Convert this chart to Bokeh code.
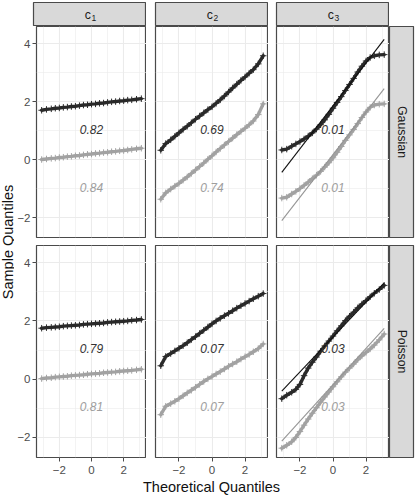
import math

from bokeh.core.properties import value
from bokeh.embed import file_html
from bokeh.layouts import column, row
from bokeh.models import FixedTicker, Grid, LinearAxis, Range1d, Spacer
from bokeh.plotting import figure
from bokeh.resources import INLINE

FONT = "Liberation Sans"

# Theoretical (normal) quantiles shared by every series
THEO = [-3.1, -2.8, -2.5, -2.25, -2.0, -1.75, -1.5, -1.25, -1.0, -0.75, -0.5, -0.25, 0.0,
        0.25, 0.5, 0.75, 1.0, 1.25, 1.5, 1.75, 2.0, 2.25, 2.5, 2.8, 3.1]

# Sample quantiles, Gaussian row
GAUSS_C1_DARK = [1.70, 1.73, 1.75, 1.77, 1.78, 1.80, 1.81, 1.83, 1.84, 1.86, 1.88, 1.89, 1.91,
                 1.92, 1.94, 1.95, 1.97, 1.99, 2.00, 2.02, 2.03, 2.05, 2.06, 2.08, 2.10]
GAUSS_C1_LIGHT = [0.00, 0.02, 0.04, 0.05, 0.07, 0.08, 0.10, 0.11, 0.13, 0.14, 0.16, 0.18, 0.19,
                  0.21, 0.22, 0.24, 0.25, 0.27, 0.28, 0.30, 0.31, 0.33, 0.35, 0.37, 0.39]
GAUSS_C2_DARK = [0.32, 0.55, 0.68, 0.80, 0.92, 1.04, 1.15, 1.27, 1.39, 1.50, 1.61, 1.72, 1.82,
                 1.94, 2.06, 2.19, 2.33, 2.47, 2.60, 2.73, 2.85, 2.98, 3.10, 3.30, 3.58]
GAUSS_C2_LIGHT = [-1.37, -1.15, -1.02, -0.92, -0.82, -0.71, -0.60, -0.48, -0.36, -0.24, -0.12, 0.01, 0.13,
                  0.26, 0.38, 0.50, 0.62, 0.74, 0.86, 0.97, 1.08, 1.20, 1.33, 1.55, 1.92]
GAUSS_C3_DARK = [0.33, 0.36, 0.46, 0.54, 0.62, 0.71, 0.81, 0.92, 1.05, 1.20, 1.37, 1.56, 1.77,
                 1.97, 2.17, 2.38, 2.59, 2.80, 3.02, 3.22, 3.40, 3.52, 3.58, 3.61, 3.62]
GAUSS_C3_LIGHT = [-1.33, -1.30, -1.19, -1.10, -1.00, -0.89, -0.78, -0.66, -0.54, -0.41, -0.26, -0.11, 0.06,
                  0.25, 0.45, 0.66, 0.85, 1.04, 1.24, 1.45, 1.64, 1.80, 1.88, 1.91, 1.92]

# Sample quantiles, Poisson row
POIS_C1_DARK = [1.75, 1.77, 1.78, 1.79, 1.80, 1.82, 1.83, 1.84, 1.85, 1.86, 1.88, 1.89, 1.90,
                1.91, 1.92, 1.93, 1.95, 1.96, 1.97, 1.98, 1.99, 2.00, 2.02, 2.03, 2.05]
POIS_C1_LIGHT = [0.02, 0.04, 0.05, 0.07, 0.08, 0.09, 0.10, 0.12, 0.13, 0.14, 0.15, 0.17, 0.18,
                 0.19, 0.20, 0.22, 0.23, 0.24, 0.25, 0.27, 0.28, 0.29, 0.30, 0.32, 0.34]
POIS_C2_DARK = [0.46, 0.78, 0.88, 0.97, 1.06, 1.15, 1.25, 1.36, 1.46, 1.57, 1.68, 1.79, 1.90,
                2.00, 2.09, 2.18, 2.26, 2.35, 2.44, 2.52, 2.60, 2.68, 2.76, 2.85, 2.94]
POIS_C2_LIGHT = [-1.22, -0.93, -0.84, -0.76, -0.67, -0.57, -0.47, -0.38, -0.28, -0.18, -0.08, 0.01, 0.09,
                 0.18, 0.26, 0.35, 0.44, 0.52, 0.60, 0.69, 0.77, 0.85, 0.94, 1.05, 1.21]
POIS_C3_DARK = [-0.67, -0.55, -0.45, -0.35, -0.18, 0.12, 0.38, 0.58, 0.76, 0.96, 1.14, 1.31, 1.48,
                1.66, 1.83, 2.01, 2.16, 2.30, 2.45, 2.58, 2.70, 2.83, 2.95, 3.08, 3.22]
POIS_C3_LIGHT = [-2.37, -2.27, -2.15, -2.00, -1.80, -1.58, -1.37, -1.17, -0.98, -0.79, -0.61, -0.44, -0.26,
                 -0.09, 0.08, 0.24, 0.38, 0.52, 0.67, 0.80, 0.92, 1.04, 1.17, 1.35, 1.55]

# Reference lines (intercept, slope) in the c3 panels
GAUSS_C3_LINE_DARK = [1.85, 0.74]
GAUSS_C3_LINE_LIGHT = [0.17, 0.735]
POIS_C3_LINE_DARK = [1.45, 0.60]
POIS_C3_LINE_LIGHT = [-0.19, 0.624]

# Panel annotations
GAUSS_LABELS_DARK = ["0.82", "0.69", "0.01"]
GAUSS_LABELS_LIGHT = ["0.84", "0.74", "0.01"]
POIS_LABELS_DARK = ["0.79", "0.07", "0.03"]
POIS_LABELS_LIGHT = ["0.81", "0.07", "0.03"]

COL_SUBSCRIPTS = ["1", "2", "3"]
ROW_NAMES = ["Gaussian", "Poisson"]

X_TICKS = [-2, 0, 2]
X_MINOR = [-3, -1, 1, 3]
Y_TICKS = [-2, 0, 2, 4]
Y_MINOR = [-1, 1, 3]
TICK_TEXT = {-2: "\u22122", 0: "0", 2: "2", 4: "4"}

X_RANGE = (-3.42, 3.42)
Y_RANGE = (-2.69, 4.59)

DARK = "#2a2a2a"
LIGHT = "#a2a2a2"
BORDER = "#4a4a4a"
STRIP_FILL = "#d9d9d9"
GRID = "#ebebeb"

ROWS = [
    dict(name=ROW_NAMES[0],
         dark=[GAUSS_C1_DARK, GAUSS_C2_DARK, GAUSS_C3_DARK],
         light=[GAUSS_C1_LIGHT, GAUSS_C2_LIGHT, GAUSS_C3_LIGHT],
         lines={2: (GAUSS_C3_LINE_DARK, GAUSS_C3_LINE_LIGHT)},
         lab_dark=GAUSS_LABELS_DARK, lab_light=GAUSS_LABELS_LIGHT),
    dict(name=ROW_NAMES[1],
         dark=[POIS_C1_DARK, POIS_C2_DARK, POIS_C3_DARK],
         light=[POIS_C1_LIGHT, POIS_C2_LIGHT, POIS_C3_LIGHT],
         lines={2: (POIS_C3_LINE_DARK, POIS_C3_LINE_LIGHT)},
         lab_dark=POIS_LABELS_DARK, lab_light=POIS_LABELS_LIGHT),
]

# layout geometry (pixels)
YLAB_W = 14
COL_W = [132, 122, 121]          # figure widths of the three panel columns
COL_LEFT = [19, 9, 8]            # left border in each (axis / gap)
STRIP_W = 27
STRIP_H = 26
ROW_H = [219, 231]
ROW_BOTTOM = [8, 19]
XLAB_H = 19


def blank(width, height, **kw):
    p = figure(width=width, height=height, x_range=Range1d(0, 1), y_range=Range1d(0, 1),
               output_backend="svg", toolbar_location=None,
               x_axis_location=None, y_axis_location=None,
               min_border_left=kw.get("left", 0), min_border_right=kw.get("right", 0),
               min_border_top=kw.get("top", 0), min_border_bottom=kw.get("bottom", 0),
               background_fill_color=kw.get("fill", "white"), border_fill_color="white",
               outline_line_color=kw.get("outline", None))
    p.xgrid.visible = False
    p.ygrid.visible = False
    return p


def style_axis(ax, standoff):
    ax.axis_line_color = None
    ax.major_tick_in = 0
    ax.major_tick_out = 4
    ax.major_tick_line_color = BORDER
    ax.minor_tick_line_color = None
    ax.major_label_text_font = FONT
    ax.major_label_text_font_size = "11.5px"
    ax.major_label_text_color = "#4d4d4d"
    ax.major_label_standoff = standoff
    ax.major_label_overrides = TICK_TEXT


def panel(ri, ci):
    spec = ROWS[ri]
    show_y = ci == 0
    show_x = ri == 1
    p = figure(width=COL_W[ci], height=ROW_H[ri],
               x_range=Range1d(*X_RANGE), y_range=Range1d(*Y_RANGE),
               output_backend="svg", toolbar_location=None,
               x_axis_location=None, y_axis_location=None,
               min_border_left=COL_LEFT[ci], min_border_right=0,
               min_border_top=0, min_border_bottom=ROW_BOTTOM[ri],
               background_fill_color="white", border_fill_color="white",
               outline_line_color=BORDER, outline_line_width=1.2)
    p.center = [r for r in p.center if not isinstance(r, Grid)]
    xt = FixedTicker(ticks=X_TICKS, minor_ticks=X_MINOR)
    yt = FixedTicker(ticks=Y_TICKS, minor_ticks=Y_MINOR)
    for dim, tk in ((0, xt), (1, yt)):
        g = Grid(dimension=dim, ticker=tk, grid_line_color=GRID, grid_line_width=1.1,
                 minor_grid_line_color=GRID, minor_grid_line_width=0.6)
        p.add_layout(g, "center")
    if show_x:
        ax = LinearAxis(ticker=xt)
        style_axis(ax, 4)
        p.add_layout(ax, "below")
    if show_y:
        ay = LinearAxis(ticker=yt)
        style_axis(ay, 2)
        p.add_layout(ay, "left")

    for ys, col in ((spec["light"][ci], LIGHT), (spec["dark"][ci], DARK)):
        p.line(THEO, ys, line_color=col, line_width=3.4, line_join="round", line_cap="round")
        p.scatter(THEO, ys, marker="cross", size=6.5, line_color=col, line_width=1)

    if ci in spec["lines"]:
        for (a, b), col in zip(spec["lines"][ci], ("#111111", "#959595")):
            xs = [THEO[0], THEO[-1]]
            p.line(xs, [a + b * x for x in xs], line_color=col, line_width=1.1)

    for txt, yy, col in ((spec["lab_dark"][ci], 1.05, "#333333"),
                         (spec["lab_light"][ci], -0.95, "#9e9e9e")):
        p.text(x=[0], y=[yy], text=[txt], text_font=value(FONT), text_font_style="italic",
               text_font_size="12px", text_color=col, text_align="center",
               text_baseline="middle")
    return p


def col_strip(ci):
    p = blank(COL_W[ci], STRIP_H, left=COL_LEFT[ci], top=2, fill=STRIP_FILL, outline=BORDER)
    p.outline_line_width = 1.2
    p.text(x=[0.5], y=[0.5], text=["c"], text_font=value(FONT), text_font_size="12.3px",
           text_color="#1a1a1a", text_align="right", text_baseline="middle", x_offset=1)
    p.text(x=[0.5], y=[0.5], text=[COL_SUBSCRIPTS[ci]], text_font=value(FONT),
           text_font_size="8.5px", text_color="#1a1a1a", text_align="left",
           text_baseline="middle", x_offset=1.5, y_offset=3)
    return p


def row_strip(ri):
    p = blank(STRIP_W, ROW_H[ri], right=3, bottom=ROW_BOTTOM[ri], fill=STRIP_FILL, outline=BORDER)
    p.outline_line_width = 1.2
    p.text(x=[0.5], y=[0.5], text=[ROWS[ri]["name"]], text_font=value(FONT),
           text_font_size="12.3px", text_color="#1a1a1a", text_align="center",
           text_baseline="middle", angle=-math.pi / 2)
    return p


top = row([col_strip(i) for i in range(3)] + [Spacer(width=STRIP_W, height=STRIP_H)], spacing=0)
grid_rows = [row([panel(r, c) for c in range(3)] + [row_strip(r)], spacing=0) for r in range(2)]

xlab = blank(sum(COL_W) + STRIP_W, XLAB_H, left=COL_LEFT[0], right=STRIP_W)
xlab.text(x=[0.5], y=[0.5], text=["Theoretical Quantiles"], text_font=value(FONT),
          text_font_size="14.5px", text_color="#111111", text_align="center",
          text_baseline="middle", y_offset=1)

total_h = STRIP_H + sum(ROW_H) + XLAB_H
ylab = blank(YLAB_W, total_h, top=STRIP_H, bottom=ROW_BOTTOM[1] + XLAB_H)
ylab.text(x=[0.5], y=[0.5], text=["Sample Quantiles"], text_font=value(FONT),
          text_font_size="14.5px", text_color="#111111", text_align="center",
          text_baseline="middle", angle=math.pi / 2)

layout = row([ylab, column([top] + grid_rows + [xlab], spacing=0)], spacing=0)

with open("out.html", "w") as f:
    f.write(file_html(layout, INLINE))
